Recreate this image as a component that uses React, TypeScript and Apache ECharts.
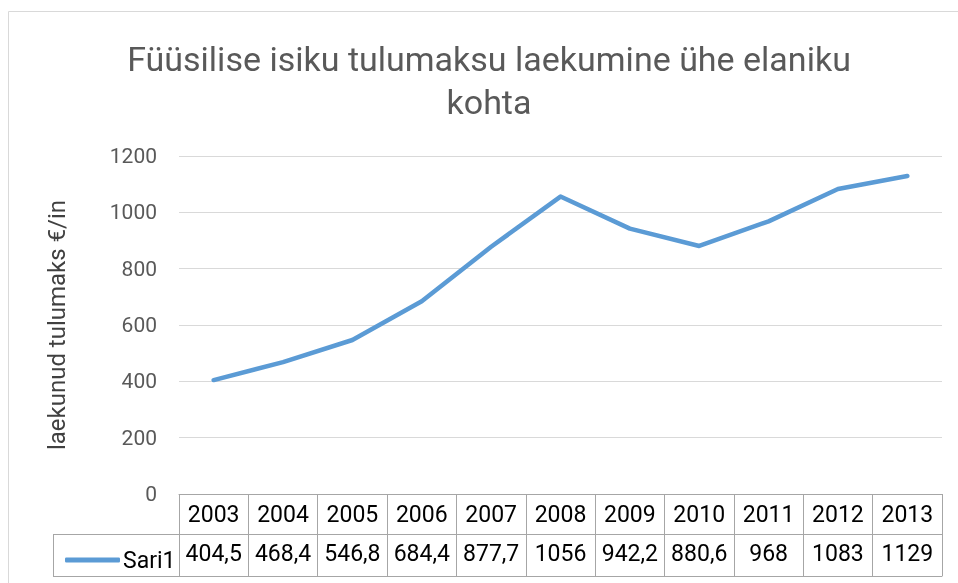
import React, { useEffect, useRef } from "react";
import * as echarts from "echarts";

const categories = ["2003", "2004", "2005", "2006", "2007", "2008", "2009", "2010", "2011", "2012", "2013"];
const values = [404.5, 468.4, 546.8, 684.4, 877.7, 1056, 942.2, 880.6, 968, 1083, 1129];
const seriesName = "Sari1";
const titleText = "Füüsilise isiku tulumaksu laekumine ühe elaniku\nkohta";
const yAxisName = "laekunud tulumaks €/in";
const yMin = 0;
const yMax = 1200;
const yInterval = 200;

const fmt = (v: number) => String(v).replace(".", ",");

const FONT = "Roboto, 'Noto Sans', sans-serif";
const TABLE_LINE = "#a6a6a6";

export default function App() {
  const ref = useRef<HTMLDivElement>(null);
  useEffect(() => {
    if (!ref.current) return;
    const chart = echarts.init(ref.current, undefined, { renderer: "svg" });
    const tableLabel = { fontSize: 23, color: "#000000", fontFamily: FONT, lineHeight: 24, interval: 0 };
    chart.setOption({
      animation: false,
      textStyle: { fontFamily: FONT },
      grid: { left: 179, right: 16, top: 156, bottom: 89, containLabel: false },
      legend: {
        data: [seriesName],
        left: 60,
        top: 543,
        icon: "roundRect",
        itemWidth: 55,
        itemHeight: 5,
        itemGap: 0,
        textStyle: { fontSize: 23, color: "#000000", fontFamily: FONT, lineHeight: 24, padding: [0, 0, 0, -2] },
      },
      graphic: [
        {
          type: "rect",
          shape: { x: 8.5, y: 11.5, width: 1400, height: 1400 },
          style: { fill: "none", stroke: "#d9d9d9", lineWidth: 1 },
          silent: true,
        },
        {
          type: "text",
          x: 489,
          y: 37,
          style: {
            text: titleText,
            textAlign: "center",
            textVerticalAlign: "top",
            fontSize: 34,
            lineHeight: 43,
            fontFamily: FONT,
            fill: "#595959",
          },
        },
        { type: "line", shape: { x1: 53, y1: 534.5, x2: 179, y2: 534.5 }, style: { stroke: TABLE_LINE, lineWidth: 1 } },
        { type: "line", shape: { x1: 53, y1: 576.5, x2: 179, y2: 576.5 }, style: { stroke: TABLE_LINE, lineWidth: 1 } },
        { type: "line", shape: { x1: 53.5, y1: 534, x2: 53.5, y2: 577 }, style: { stroke: TABLE_LINE, lineWidth: 1 } },
      ],
      xAxis: [
        {
          type: "category",
          data: categories,
          position: "bottom",
          boundaryGap: true,
          axisLine: { show: true, lineStyle: { color: TABLE_LINE, width: 1 } },
          axisTick: { show: true, length: 82, interval: 0, lineStyle: { color: TABLE_LINE, width: 1 } },
          axisLabel: { ...tableLabel, margin: 8 },
          splitLine: { show: false },
        },
        {
          type: "category",
          data: values.map(fmt),
          position: "bottom",
          offset: 40,
          boundaryGap: true,
          axisLine: { show: true, lineStyle: { color: TABLE_LINE, width: 1 } },
          axisTick: { show: false },
          axisLabel: { ...tableLabel, margin: 7 },
        },
        {
          type: "category",
          data: categories,
          position: "bottom",
          offset: 82,
          boundaryGap: true,
          axisLine: { show: true, lineStyle: { color: TABLE_LINE, width: 1 } },
          axisTick: { show: false },
          axisLabel: { show: false },
        },
      ],
      yAxis: {
        type: "value",
        min: yMin,
        max: yMax,
        interval: yInterval,
        axisLine: { show: false },
        axisTick: { show: false },
        axisLabel: { fontSize: 21, color: "#595959", margin: 22, fontFamily: FONT, formatter: (v: number) => String(v) },
        splitLine: { lineStyle: { color: "#d9d9d9", width: 1 } },
        name: yAxisName,
        nameLocation: "middle",
        nameRotate: 90,
        nameGap: 110,
        nameTextStyle: { fontSize: 24, color: "#404040", fontFamily: FONT },
      },
      series: [
        {
          name: seriesName,
          type: "line",
          data: values,
          xAxisIndex: 0,
          symbol: "none",
          showSymbol: false,
          color: "#5b9bd5",
          lineStyle: { color: "#5b9bd5", width: 4.5, cap: "round", join: "round" },
        },
      ],
    });
    return () => chart.dispose();
  }, []);
  return <div ref={ref} style={{ position: "fixed", left: 0, top: 0, width: 958, height: 583 }} />;
}
